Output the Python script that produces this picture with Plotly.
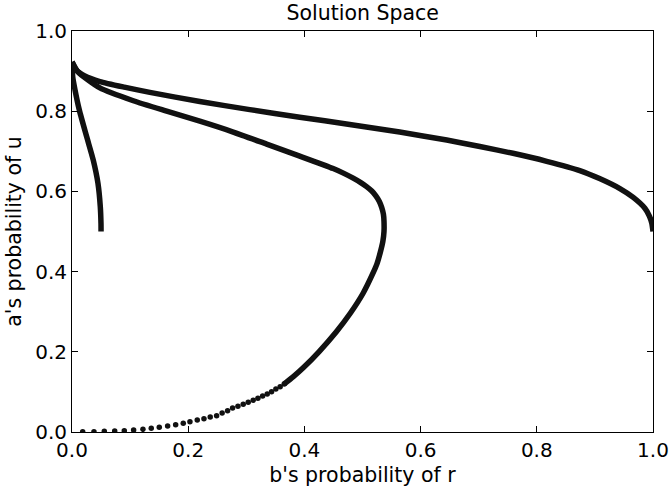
import plotly.graph_objects as go

# Branch that turns back at b = 0.05
narrow_x = [0.0, 0.0012, 0.0052, 0.0126, 0.0253, 0.0366, 0.0447, 0.0487, 0.0499, 0.05]
narrow_y = [0.923, 0.886, 0.853, 0.803, 0.736, 0.678, 0.620, 0.562, 0.520, 0.500]

# Branch that reaches b = 1.0
wide_x = [0.0, 0.007, 0.022, 0.048, 0.090, 0.134, 0.220, 0.306, 0.392, 0.478,
          0.564, 0.645, 0.702, 0.759, 0.817, 0.874, 0.908, 0.943, 0.966,
          0.986, 0.994, 0.998, 1.0]
wide_y = [0.923, 0.903, 0.888, 0.874, 0.860, 0.847, 0.824, 0.804, 0.785, 0.767,
          0.748, 0.728, 0.712, 0.695, 0.675, 0.652, 0.632, 0.607, 0.585,
          0.558, 0.538, 0.520, 0.500]

# Middle branch: dense upper part bending round at b ~ 0.537
mid_x = [0.0, 0.0103, 0.048, 0.1055, 0.163, 0.220, 0.2775, 0.335, 0.392, 0.4495,
         0.468, 0.484, 0.497, 0.507, 0.516, 0.523, 0.529, 0.533, 0.536, 0.537,
         0.537, 0.535, 0.531, 0.525, 0.518, 0.501, 0.479, 0.455, 0.425, 0.398,
         0.381, 0.3652]
mid_y = [0.923, 0.898, 0.858, 0.826, 0.800, 0.775, 0.748, 0.718, 0.688, 0.657,
         0.645, 0.633, 0.622, 0.612, 0.601, 0.589, 0.575, 0.560, 0.543, 0.525,
         0.500, 0.475, 0.450, 0.420, 0.396, 0.346, 0.296, 0.250, 0.200, 0.160,
         0.138, 0.1197]

# ...and its sparse samples running down to the origin
tail_x = [0.3652, 0.3583, 0.3509, 0.3435, 0.3360, 0.3281, 0.3200, 0.3119, 0.3033,
          0.2947, 0.2856, 0.2764, 0.2678, 0.2584, 0.2489, 0.2379, 0.2271, 0.2156,
          0.2030, 0.1915, 0.1784, 0.1646, 0.1502, 0.1364, 0.1221, 0.1061, 0.0900,
          0.0735, 0.0556, 0.0378, 0.0184]
tail_y = [0.1197, 0.1130, 0.1072, 0.1005, 0.0948, 0.0898, 0.0840, 0.0791, 0.0741,
          0.0691, 0.0641, 0.0599, 0.0528, 0.0474, 0.0406, 0.0374, 0.0332, 0.0299,
          0.0257, 0.0217, 0.0182, 0.0150, 0.0117, 0.0092, 0.0067, 0.0050, 0.0032,
          0.0025, 0.0017, 0.0007, 0.0007]

tick_vals = [0.0, 0.2, 0.4, 0.6, 0.8, 1.0]
tick_text = ["0.0", "0.2", "0.4", "0.6", "0.8", "1.0"]

INK = "#111111"
FONT = "DejaVu Sans"

fig = go.Figure()
for xs, ys in [(narrow_x, narrow_y), (wide_x, wide_y), (mid_x, mid_y)]:
    fig.add_trace(go.Scatter(
        x=xs, y=ys, mode="lines",
        line=dict(color=INK, width=5.5, shape="spline", smoothing=0.6),
        hoverinfo="skip", showlegend=False,
    ))
fig.add_trace(go.Scatter(
    x=tail_x, y=tail_y, mode="markers",
    marker=dict(color=INK, size=5.5, line=dict(width=0)),
    hoverinfo="skip", showlegend=False,
))

axis_common = dict(
    range=[0, 1], tickvals=tick_vals, ticktext=tick_text, automargin=False,
    showgrid=False, zeroline=False, showline=True, linecolor="black", linewidth=1,
    mirror="ticks", ticks="inside", ticklen=6, tickcolor="black", tickwidth=1,
    tickfont=dict(family=FONT, size=20, color="black"),
)

fig.update_layout(
    width=670, height=487,
    margin=dict(l=72, r=17, t=31, b=55, autoexpand=False),
    paper_bgcolor="white", plot_bgcolor="white",
    title=dict(text="Solution Space", x=0.5413, xanchor="center", y=0.973,
               yref="container", yanchor="middle",
               font=dict(family=FONT, size=20.5, color="black")),
    xaxis=dict(**axis_common,
               title=dict(text="b's probability of r", standoff=8,
                          font=dict(family=FONT, size=20.5, color="black"))),
    yaxis=dict(**axis_common,
               title=dict(text="a's probability of u", standoff=8,
                          font=dict(family=FONT, size=20.5, color="black"))),
)

fig.write_html("out.html")
